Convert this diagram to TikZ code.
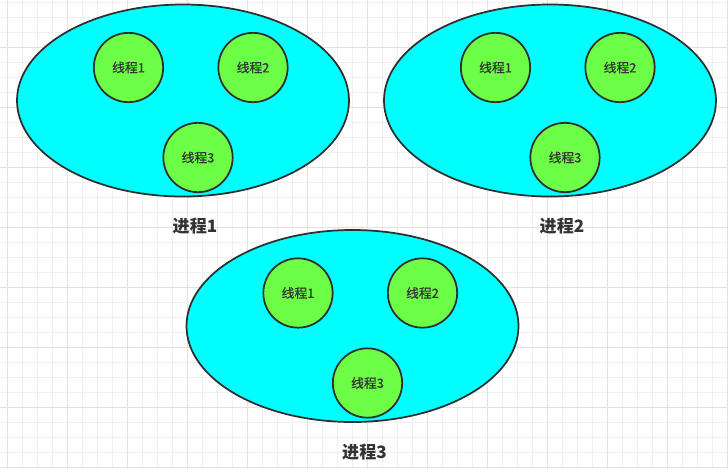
\documentclass[tikz,border=0pt]{standalone}
\usepackage{fontspec}
\setmainfont{Noto Sans CJK SC}
\newfontfamily\threadfont[FakeBold=0.6]{Noto Sans CJK SC}
\usetikzlibrary{shapes.geometric}
\definecolor{gridminor}{HTML}{F0F0F0}
\definecolor{gridmajor}{HTML}{E2E2E2}
\definecolor{cyanf}{HTML}{00FFFF}
\definecolor{greenf}{HTML}{6CFF45}
\definecolor{linec}{HTML}{2E2E2E}
\definecolor{txtc}{HTML}{333333}
\tikzset{
  minorline/.style={draw=gridminor, line width=0.75pt},
  majorline/.style={draw=gridmajor, line width=0.75pt},
  proc/.style={ellipse, draw=linec, fill=cyanf, line width=1.3pt,
    minimum width=249pt, minimum height=144pt, inner sep=0pt},
  thread/.style={circle, draw=linec, fill=greenf, line width=1.3pt,
    minimum size=52pt, inner sep=0pt, text=txtc, font=\threadfont\fontsize{9.6pt}{11pt}\selectfont},
  plabel/.style={inner sep=0pt, text=txtc, font=\fontsize{12.8pt}{15pt}\selectfont\bfseries},
}
\begin{document}
\begin{tikzpicture}[x=0.75pt,y=-0.75pt]
\useasboundingbox (0,0) rectangle (728,469);
\fill[white] (0,0) rectangle (728,469);
\foreach \x in {7.3,22.3,...,727.4} \draw[minorline] (\x,0) -- (\x,469);
\foreach \y in {2.3,17.3,...,467.4} \draw[minorline] (0,\y) -- (728,\y);
\foreach \x in {7.3,67.3,...,727.4} \draw[majorline] (\x,0) -- (\x,469);
\foreach \y in {47.3,107.3,...,467.4} \draw[majorline] (0,\y) -- (728,\y);

\begin{scope}[shift={(183,100.5)}]
\node[proc] (p1) at (0,0) {};
\node[thread] (p1t1) at (-54.5,-33) {线程1};
\node[thread] (p1t2) at (70,-33) {线程2};
\node[thread] (p1t3) at (15,57) {线程3};
\node[plabel] (p1l) at (12,126) {进程1};
\end{scope}

\begin{scope}[shift={(550,100.5)}]
\node[proc] (p2) at (0,0) {};
\node[thread] (p2t1) at (-54.5,-33) {线程1};
\node[thread] (p2t2) at (70,-33) {线程2};
\node[thread] (p2t3) at (15,57) {线程3};
\node[plabel] (p2l) at (12,126) {进程2};
\end{scope}

\begin{scope}[shift={(352.5,326)}]
\node[proc] (p3) at (0,0) {};
\node[thread] (p3t1) at (-54.5,-33) {线程1};
\node[thread] (p3t2) at (70,-33) {线程2};
\node[thread] (p3t3) at (15,57) {线程3};
\node[plabel] (p3l) at (12,126) {进程3};
\end{scope}
\end{tikzpicture}
\end{document}
